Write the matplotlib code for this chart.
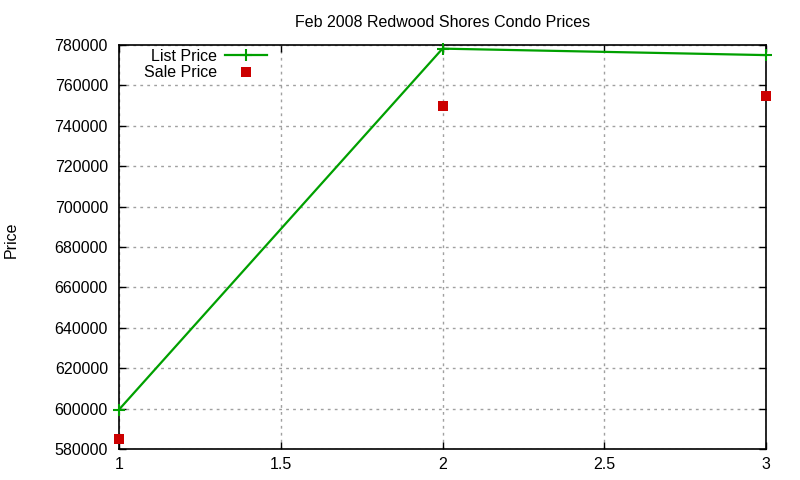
import matplotlib
matplotlib.use("Agg")
import matplotlib.pyplot as plt

plt.rcParams['font.family'] = ['Liberation Sans', 'DejaVu Sans']

x = [1, 2, 3]
list_price = [599500, 778200, 775000]
sale_price = [585000, 750000, 755000]

FS = 11.5

fig = plt.figure(figsize=(8, 4.8), dpi=100)
ax = fig.add_axes([119/800, 1-449/480, (766-119)/800, (449-45)/480])

ax.plot(x, list_price, color='#00a000', lw=1.6, marker='+', ms=9, mew=1.5,
        label='List Price', clip_on=False, zorder=3)
ax.plot(x, sale_price, color='#cc0000', ls='none', marker='s', ms=6.5, mew=0,
        label='Sale Price', clip_on=False, zorder=3)

ax.set_xlim(1, 3)
ax.set_ylim(580000, 780000)
ax.set_xticks([1, 1.5, 2, 2.5, 3])
ax.set_xticklabels(['1', '1.5', '2', '2.5', '3'])
ax.set_yticks(range(580000, 780001, 20000))
ax.set_yticklabels([str(v) for v in range(580000, 780001, 20000)])
ax.tick_params(direction='in', length=5, width=1, top=True, right=True,
               labelsize=FS, colors='black')
ax.tick_params(axis='y', pad=8)
ax.tick_params(axis='x', pad=6)
ax.grid(True, color='#a0a0a0', ls=(0, (2, 3)), lw=1)
for s in ax.spines.values():
    s.set_linewidth(1.2)

ax.set_title('Feb 2008 Redwood Shores Condo Prices', fontsize=FS, pad=13)
fig.text(11/800, 1-240/480, 'Price', rotation=90, va='center', ha='center', fontsize=FS)

leg = ax.legend(loc='center right', bbox_to_anchor=(267/800, 1-64.5/480),
                bbox_transform=fig.transFigure, frameon=False,
                markerfirst=False, fontsize=FS, handlelength=2.6,
                handletextpad=0.55, borderpad=0.0, borderaxespad=0.0,
                labelspacing=0.12)
for t in leg.get_texts():
    t.set_ha('right')

fig.savefig('out.png', dpi=100)
